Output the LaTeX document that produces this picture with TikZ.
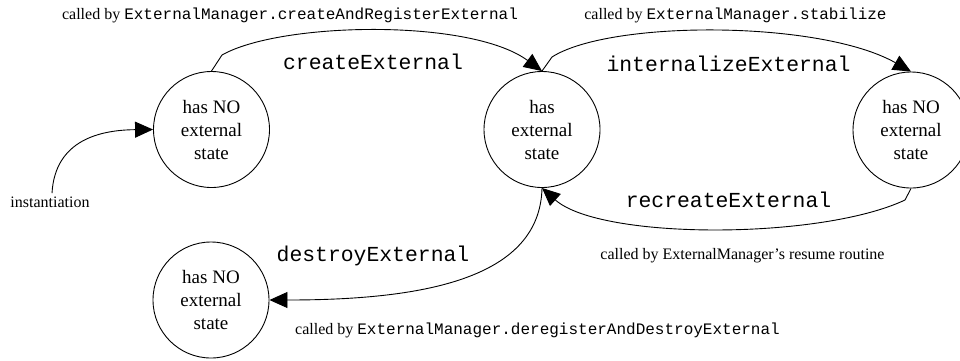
\documentclass[tikz,border=0pt]{standalone}
\usepackage{fontspec}
\setmainfont{Liberation Serif}
\setmonofont{Liberation Mono}
\usetikzlibrary{arrows.meta}

\tikzset{
  state/.style={circle, draw, line width=0.9pt, minimum size=116pt, inner sep=0pt,
    align=center, font=\fontsize{19}{23}\selectfont},
  trans/.style={line width=0.9pt, -{Triangle[length=18pt,width=16pt]}},
  plain/.style={line width=0.9pt},
  method/.style={anchor=base, inner sep=0pt, font=\fontsize{21.4}{25}\ttfamily},
  caller/.style={anchor=base, inner sep=0pt, font=\fontsize{16}{19}\selectfont},
}
\newcommand{\cmono}[1]{{\ttfamily #1}}

\begin{document}
\begin{tikzpicture}[x=1pt, y=-1pt]
  \useasboundingbox (0,0) rectangle (960,360);

  % states
  \node[state] (A) at (211.5,129.5) {has NO\\external\\state};
  \node[state] (B) at (542,129.5) {has\\external\\state};
  \node[state] (C) at (911,130) {has NO\\external\\state};
  \node[state] (D) at (211,300) {has NO\\external\\state};

  % entry point
  \node[caller] (inst) at (50,207) {instantiation};
  \draw[trans] (inst.north) ++(2,-3) coordinate (i0)
    .. controls (55,140) and (100,130) .. (A.west);

  % createExternal: A -> B
  \coordinate (kA) at (222,55);
  \draw[plain] (A.north) -- (kA);
  \draw[trans] (kA) .. controls (280,22) and (470,18) .. (B.north);

  % internalizeExternal: B -> C
  \coordinate (kB) at (552,57);
  \draw[plain] (B.north) -- (kB);
  \draw[trans] (kB) .. controls (610,20) and (820,20) .. (C.north);

  % recreateExternal: C -> B
  \coordinate (kC) at (905,200);
  \draw[plain] (C.south) -- (kC);
  \draw[trans] (kC) .. controls (820,240) and (600,240) .. (B.south);

  % destroyExternal: B -> D
  \draw[trans] (B.south) .. controls (540,280) and (420,300) .. (D.east);

  % method names
  \node[method] (mCreate) at (373,69) {createExternal};
  \node[method] (mIntern) at (728.5,71) {internalizeExternal};
  \node[method] (mRecreate) at (728.5,207) {recreateExternal};
  \node[method] (mDestroy) at (373,261) {destroyExternal};

  % callers
  \node[caller] (cCreate) at (290,19) {called by \cmono{ExternalManager.createAndRegisterExternal}};
  \node[caller] (cStab) at (735.5,19) {called by \cmono{ExternalManager.stabilize}};
  \node[caller] (cResume) at (742.5,259) {called by ExternalManager's resume routine};
  \node[caller] (cDereg) at (537.5,334) {called by \cmono{ExternalManager.deregisterAndDestroyExternal}};
\end{tikzpicture}
\end{document}
